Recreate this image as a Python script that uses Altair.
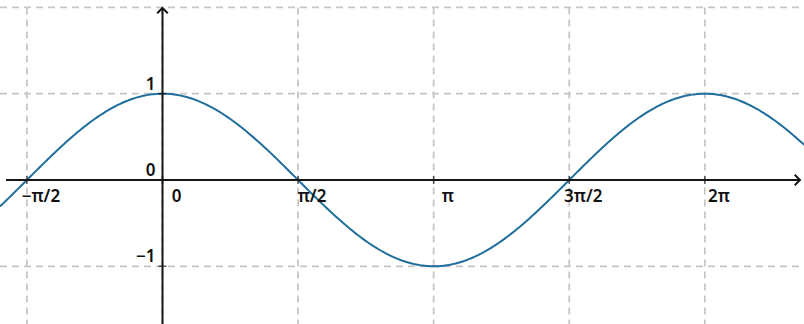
import math
import altair as alt
import pandas as pd

# Tick positions (multiples of pi/2) and their labels
x_ticks = [-math.pi / 2, 0.0, math.pi / 2, math.pi, 3 * math.pi / 2, 2 * math.pi]
x_labels = ["−π/2", "0", "π/2", "π", "3π/2", "2π"]
y_ticks = [1, 0, -1]
y_labels = ["1", "0", "−1"]
y_grid = [2, 1, -1]

# Visible window (equal units on both axes)
x_min, x_max = -1.8825, 7.432
y_min, y_max = -1.669, 2.086

W, H = 804, 324
xs = alt.Scale(domain=[x_min, x_max], nice=False, zero=False)
ys = alt.Scale(domain=[y_min, y_max], nice=False, zero=False)

FONT = "Noto Sans"
GRID = "#c6c6c6"
AXIS = "#161616"
CURVE = "#1f6e9c"

xt = pd.DataFrame({"x": x_ticks, "label": x_labels})
yt = pd.DataFrame({"y": y_ticks, "label": y_labels})
yg = pd.DataFrame({"y": y_grid})
origin = pd.DataFrame({"x": [0.0], "y": [0.0]})

vgrid = alt.Chart(xt).mark_rule(color=GRID, strokeWidth=1.8, strokeDash=[7, 5]).encode(
    x=alt.X("x:Q", scale=xs, axis=None),
    y=alt.Y("top:Q", scale=ys, axis=None),
    y2=alt.value(H),
).transform_calculate(top="2")

hgrid = alt.Chart(yg).mark_rule(color=GRID, strokeWidth=1.8, strokeDash=[7, 5]).encode(
    y=alt.Y("y:Q", scale=ys, axis=None),
    x=alt.value(0),
    x2=alt.value(W),
)

curve = alt.Chart().mark_line(color=CURVE, strokeWidth=2, clip=True).encode(
    x=alt.X("x:Q", scale=xs, axis=None),
    y=alt.Y("y:Q", scale=ys, axis=None),
).transform_calculate(y="cos(datum.x)")
curve = curve.properties(data=alt.sequence(x_min, x_max + 0.02, 0.02, as_="x"))

x_axis = alt.Chart(origin).mark_rule(color=AXIS, strokeWidth=2).encode(
    y=alt.Y("y:Q", scale=ys, axis=None),
    x=alt.value(6),
    x2=alt.value(800),
)
y_axis = alt.Chart(origin).mark_rule(color=AXIS, strokeWidth=2).encode(
    x=alt.X("x:Q", scale=xs, axis=None),
    y=alt.value(8),
    y2=alt.value(H),
)

up_arrow = alt.Chart(origin).mark_point(
    shape="M-0.75,0.75L0,0L0.75,0.75", filled=False, color=AXIS, strokeWidth=2, size=200, opacity=1
).encode(x=alt.X("x:Q", scale=xs, axis=None), y=alt.value(8))

right_arrow = alt.Chart(origin).mark_point(
    shape="M-0.75,-0.75L0,0L-0.75,0.75", filled=False, color=AXIS, strokeWidth=2, size=200, opacity=1
).encode(x=alt.value(800), y=alt.Y("y:Q", scale=ys, axis=None))

x_tick_marks = alt.Chart(xt).mark_tick(color=AXIS, thickness=1.5, size=8, orient="vertical").encode(
    x=alt.X("x:Q", scale=xs, axis=None),
    y=alt.Y("zero:Q", scale=ys, axis=None),
).transform_calculate(zero="0")

y_tick_marks = alt.Chart(yt[yt["y"] != 0]).mark_tick(color=AXIS, thickness=1.5, size=8, orient="horizontal").encode(
    y=alt.Y("y:Q", scale=ys, axis=None),
    x=alt.X("zero:Q", scale=xs, axis=None),
).transform_calculate(zero="0")

x_text = alt.Chart(xt).mark_text(
    font=FONT, fontSize=17, fontWeight=600, color="#111111", align="center", baseline="middle", dx=14, dy=17
).encode(
    x=alt.X("x:Q", scale=xs, axis=None),
    y=alt.Y("zero:Q", scale=ys, axis=None),
    text="label:N",
).transform_calculate(zero="0")

y_text = alt.Chart(yt).mark_text(
    font=FONT, fontSize=17, fontWeight=600, color="#111111", align="right", baseline="middle", dx=-7, dy=-9
).encode(
    y=alt.Y("y:Q", scale=ys, axis=None),
    x=alt.X("zero:Q", scale=xs, axis=None),
    text="label:N",
).transform_calculate(zero="0")

chart = alt.layer(
    vgrid, hgrid, curve, x_axis, y_axis, up_arrow, right_arrow,
    x_tick_marks, y_tick_marks, x_text, y_text,
).properties(
    width=W, height=H, padding=0, autosize=alt.AutoSizeParams(type="none"),
    background="white",
).configure_view(stroke=None)

chart.save("out.html", embed_options={"renderer": "svg", "actions": False})
